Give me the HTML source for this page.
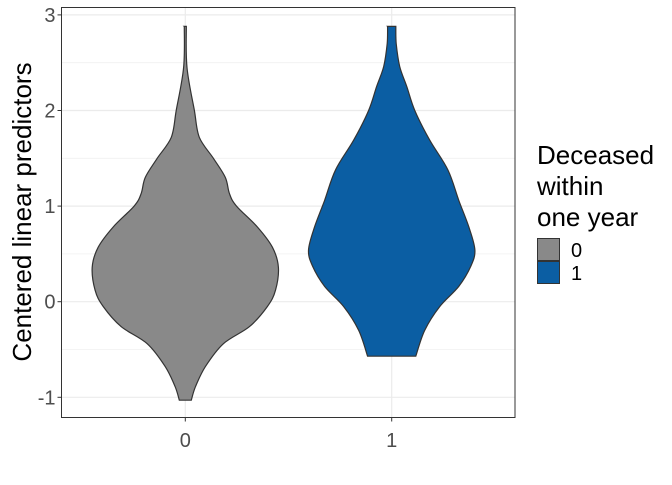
<!DOCTYPE html>
<html><head><meta charset="utf-8"><style>
body{margin:0;background:#fff}
svg text{font-family:"Liberation Sans",Arial,sans-serif}
</style></head><body>
<svg id="chart" width="672" height="480" xmlns="http://www.w3.org/2000/svg">
<rect x="0" y="0" width="672" height="480" fill="#fff"/>
<g id="grid"></g>
<g id="violins"></g>
<rect x="61.5" y="7.5" width="453.5" height="410" fill="none" stroke="#333" stroke-width="1"/>
<g id="axes"></g>
<text x="0" y="0" transform="translate(31,212) rotate(-90)" text-anchor="middle" font-size="26" fill="#000">Centered linear predictors</text>
<g>
<text x="537" y="164" font-size="26">Deceased</text>
<text x="537" y="195" font-size="26">within</text>
<text x="537" y="226" font-size="26">one year</text>
<rect x="537.5" y="238.5" width="22" height="22" fill="#898989" stroke="#333"/>
<rect x="537.5" y="261.5" width="22" height="22" fill="#0b5ea3" stroke="#333"/>
<text x="571" y="257" font-size="20" fill="#000">0</text>
<text x="571" y="280" font-size="20" fill="#000">1</text>
</g>
</svg>
<script>
const categories = ["0","1"];
const colors = ["#898989","#0b5ea3"];
const yTicks = [-1,0,1,2,3];
const yTickLabels = ["-1","0","1","2","3"];
const v0Y = [2.88,2.45,2.0,1.72,1.5,1.3,1.13,1.0,0.78,0.57,0.36,0.12,-0.05,-0.26,-0.44,-0.68,-0.89,-1.03];
const v0W = [0.005,0.008,0.044,0.068,0.136,0.194,0.214,0.248,0.35,0.422,0.451,0.437,0.398,0.311,0.184,0.097,0.049,0.029];
const v1Y = [2.88,2.7,2.46,2.25,2.0,1.69,1.38,1.06,0.78,0.54,0.37,0.16,-0.05,-0.3,-0.57];
const v1W = [0.02,0.022,0.039,0.073,0.112,0.184,0.272,0.325,0.374,0.403,0.383,0.325,0.233,0.16,0.117];

const px0=61.5, px1=515, py0=7.5, py1=417.5;
function yS(v){return 301.7 - v*95.6;}
function xS(i){return 185.3 + i*206.4;}
const NS="http://www.w3.org/2000/svg";
function mk(t,a,p){const e=document.createElementNS(NS,t);for(const k in a)e.setAttribute(k,a[k]);p.appendChild(e);return e;}
const grid=document.getElementById('grid'), axes=document.getElementById('axes'), vg=document.getElementById('violins');
for(let i=0;i<yTicks.length-1;i++){
  const e=mk('line',{x1:px0,x2:px1,y1:yS((yTicks[i]+yTicks[i+1])/2),y2:yS((yTicks[i]+yTicks[i+1])/2),stroke:'#f0f0f0','stroke-width':0.8},grid);
  
  
}
yTicks.forEach((t,i)=>{
  const g=mk('line',{x1:px0,x2:px1,y1:yS(t),y2:yS(t),stroke:'#ebebeb','stroke-width':1.2},grid);
  
  
  const tk=mk('line',{x1:px0-4,x2:px0,y1:yS(t),y2:yS(t),stroke:'#333'},axes);
  
  
  const tx=mk('text',{x:px0-6,y:yS(t)+7,'text-anchor':'end','font-size':20,fill:'#4d4d4d'},axes);
  tx.textContent=yTickLabels[i];
  
  
});
categories.forEach((c,i)=>{
  const g=mk('line',{x1:xS(i),x2:xS(i),y1:py0,y2:py1,stroke:'#ebebeb','stroke-width':1.2},grid);
  
  
  const tk=mk('line',{x1:xS(i),x2:xS(i),y1:py1,y2:py1+4,stroke:'#333'},axes);
  
  
  const tx=mk('text',{x:xS(i),y:447,'text-anchor':'middle','font-size':20,fill:'#4d4d4d'},axes);
  tx.textContent=c;
  
  
});
function smooth(pts){
  let d='';
  for(let i=0;i<pts.length-1;i++){
    const p0=pts[Math.max(i-1,0)],p1=pts[i],p2=pts[i+1],p3=pts[Math.min(i+2,pts.length-1)];
    const c1=[p1[0]+(p2[0]-p0[0])/6,p1[1]+(p2[1]-p0[1])/6];
    const c2=[p2[0]-(p3[0]-p1[0])/6,p2[1]-(p3[1]-p1[1])/6];
    d+=` C${c1[0].toFixed(1)},${c1[1].toFixed(1)} ${c2[0].toFixed(1)},${c2[1].toFixed(1)} ${p2[0].toFixed(1)},${p2[1].toFixed(1)}`;
  }
  return d;
}
function violin(i,Y,W){
  const cx=xS(i);
  const right=Y.map((y,k)=>[cx+W[k]*206.4,yS(y)]);
  const left=Y.map((y,k)=>[cx-W[k]*206.4,yS(y)]).reverse();
  let d=`M${left[left.length-1][0]},${right[0][1]} L${right[0][0]},${right[0][1]}`+smooth(right)+` L${left[0][0]},${left[0][1]}`+smooth(left)+' Z';
  const p=mk('path',{d:d,fill:colors[i],stroke:'#333','stroke-width':1.2},vg);
  
  
}
violin(0,v0Y,v0W);
violin(1,v1Y,v1W);
</script>
</body></html>
